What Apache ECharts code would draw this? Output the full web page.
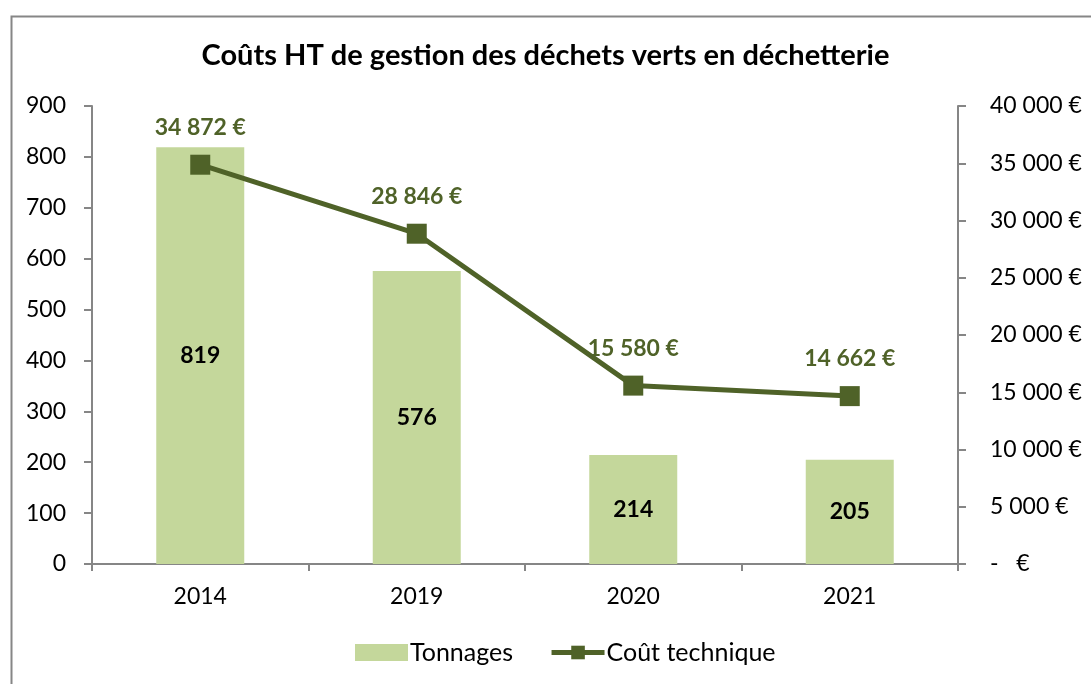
<!DOCTYPE html>
<html>
<head>
<meta charset="utf-8">
<script src="https://cdn.jsdelivr.net/npm/echarts@6/dist/echarts.min.js"></script>
<style>html,body{margin:0;padding:0;background:#fff;}#c{width:1091px;height:684px;}</style>
</head>
<body>
<div id="c"></div>
<script>
const categories = ['2014', '2019', '2020', '2021'];
const tonnages = [819, 576, 214, 205];
const couts = [34872, 28846, 15580, 14662];
const titleText = 'Coûts HT de gestion des déchets verts en déchetterie';
const seriesNames = ['Tonnages', 'Coût technique'];

const FONT = 'Lato, "Open Sans", sans-serif';
function fmtEuro(v) {
  if (v === 0) return '-   €';
  return String(Math.round(v)).replace(/\B(?=(\d{3})+(?!\d))/g, ' ') + ' €';
}
const axisGray = '#868686';
const chart = echarts.init(document.getElementById('c'));
chart.setOption({
  animation: false,
  backgroundColor: '#fff',
  textStyle: { fontFamily: FONT },
  graphic: [{
    type: 'rect', left: 9, top: 14, shape: { width: 1200, height: 800 },
    style: { fill: 'none', stroke: axisGray, lineWidth: 2 }, silent: true
  }],
  title: {
    text: titleText, left: 'center', top: 36,
    textStyle: { fontFamily: FONT, fontWeight: 'bold', fontSize: 29, color: '#000' }
  },
  legend: {
    bottom: 14, left: 350, itemGap: 36, itemWidth: 53, itemHeight: 17,
    textStyle: { fontFamily: FONT, fontSize: 25, color: '#000', padding: [0, 0, 0, -3] },
    data: [
      { name: seriesNames[0], icon: 'rect' },
      { name: seriesNames[1], lineStyle: { width: 5, color: '#4f6228' } }
    ]
  },
  grid: { left: 92, right: 133, top: 106, bottom: 120, containLabel: false },
  xAxis: {
    type: 'category', data: categories,
    axisLine: { lineStyle: { color: axisGray, width: 2 } },
    axisTick: { show: true, length: 7, lineStyle: { color: axisGray, width: 2 } },
    axisLabel: { color: '#000', fontSize: 23, margin: 21, fontFamily: FONT }
  },
  yAxis: [{
    type: 'value', min: 0, max: 900, interval: 100,
    axisLine: { show: true, lineStyle: { color: axisGray, width: 2 } },
    axisTick: { show: true, length: 8, lineStyle: { color: axisGray, width: 2 } },
    splitLine: { show: false },
    axisLabel: { color: '#000', fontSize: 23, margin: 26, fontFamily: FONT }
  }, {
    type: 'value', min: 0, max: 40000, interval: 5000, position: 'right',
    axisLine: { show: true, lineStyle: { color: axisGray, width: 2 } },
    axisTick: { show: true, length: 8, lineStyle: { color: axisGray, width: 2 } },
    splitLine: { show: false },
    axisLabel: { color: '#000', fontSize: 23, margin: 32, align: 'left', fontFamily: FONT, formatter: fmtEuro }
  }],
  series: [{
    name: seriesNames[0], type: 'bar', data: tonnages, yAxisIndex: 0,
    barWidth: 88,
    itemStyle: { color: '#c4d79b' },
    label: { show: true, position: 'inside', color: '#000', fontWeight: 'bold', fontSize: 23, fontFamily: FONT }
  }, {
    name: seriesNames[1], type: 'line', data: couts, yAxisIndex: 1,
    symbol: 'rect', symbolSize: 20,
    lineStyle: { color: '#4f6228', width: 5 },
    itemStyle: { color: '#4f6228' },
    label: { show: true, position: 'top', distance: 16, color: '#4f6228', fontWeight: 'bold', fontSize: 23, fontFamily: FONT, formatter: p => fmtEuro(p.value) }
  }]
});
</script>
</body>
</html>
